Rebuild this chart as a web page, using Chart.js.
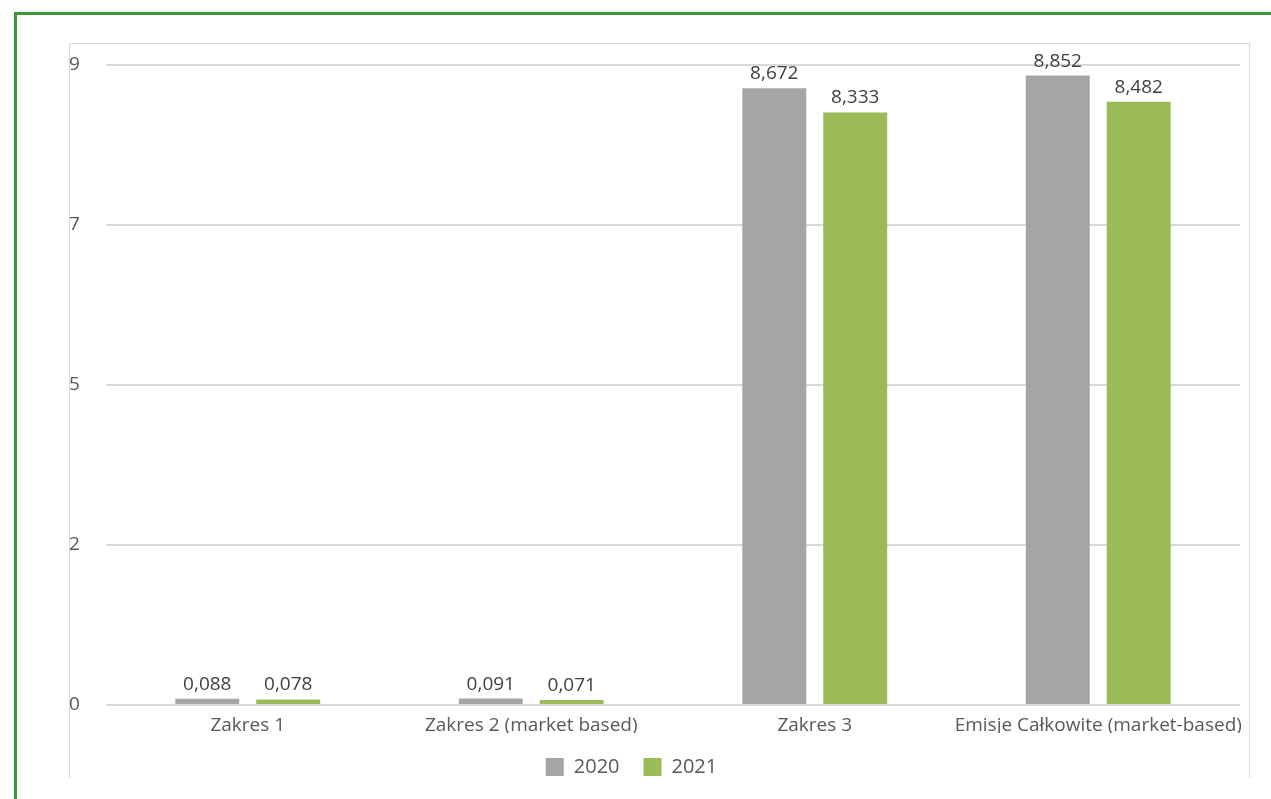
<!DOCTYPE html>
<html>
<head>
<meta charset="utf-8">
<script src="https://cdn.jsdelivr.net/npm/chart.js@4.4.0/dist/chart.umd.min.js"></script>
<style>
  body { margin: 0; background: #fff; }
  #frame { position: absolute; left: 14px; top: 12px; width: 1300px; height: 900px;
           border-left: 3px solid #3a9a3a; border-top: 3px solid #3a9a3a; }
  #box { position: absolute; left: 69px; top: 43px; width: 1179px; height: 734px;
         border: 1px solid #d9d9d9; border-bottom: none; }
  #wrap { position: absolute; left: 0; top: 0; width: 1271px; height: 799px; }
</style>
</head>
<body>
<div id="frame"></div>
<div id="box"></div>
<div id="wrap"><canvas id="emissionsChart"></canvas></div>
<script>
// Emisje (Zakres 1-3) //
const categories = ['Zakres 1', 'Zakres 2 (market based)', 'Zakres 3', 'Emisje Całkowite (market-based)'];
const values2020 = [0.088, 0.091, 8.672, 8.852];
const values2021 = [0.078, 0.071, 8.333, 8.482];
const yearLabels = ['2020', '2021'];

// labels above bars, with decimal comma
const barValueLabels = {
    id: 'barValueLabels',
    afterLayout(chart) {
        // legend sits a bit left of centre in the original
        chart.legend.left -= 23;
        chart.legend.right -= 23;
    },
    afterDatasetsDraw(chart) {
        const ctx = chart.ctx;
        ctx.save();
        ctx.font = '19px "Open Sans"';
        ctx.fillStyle = '#404040';
        ctx.textAlign = 'center';
        ctx.textBaseline = 'alphabetic';
        chart.data.datasets.forEach((ds, i) => {
            chart.getDatasetMeta(i).data.forEach((bar, j) => {
                const txt = ds.data[j].toFixed(3).replace('.', ',');
                ctx.fillText(txt, bar.x, bar.y - 9);
            });
        });
        ctx.restore();
    }
};

function renderChart() {
    const ctx = document.getElementById('emissionsChart').getContext('2d');
    new Chart(ctx, {
        type: 'bar',
        data: {
            labels: categories,
            datasets: [{
                label: yearLabels[0],
                data: values2020,
                backgroundColor: '#a5a5a5',
                categoryPercentage: 0.571,
                barPercentage: 0.79
            }, {
                label: yearLabels[1],
                data: values2021,
                backgroundColor: '#9bbb59',
                categoryPercentage: 0.571,
                barPercentage: 0.79
            }]
        },
        options: {
            responsive: true,
            maintainAspectRatio: false,
            animation: false,
            layout: { padding: { left: 69, top: 65, right: 31, bottom: 12 } },
            plugins: {
                tooltip: { enabled: false },
                legend: {
                    position: 'bottom',
                    labels: {
                        boxWidth: 18,
                        boxHeight: 18,
                        padding: 24,
                        color: '#595959',
                        font: { family: 'Open Sans', size: 20 }
                    }
                }
            },
            scales: {
                x: {
                    grid: { display: false, drawTicks: false },
                    border: { display: false },
                    ticks: {
                        color: '#595959', padding: 9, maxRotation: 0, autoSkip: false,
                        font: { family: 'Open Sans', size: 19 }
                    },
                    afterFit(scale) { scale.height = 28; }
                },
                y: {
                    min: 0,
                    max: 9,
                    grid: { color: '#d9d9d9', lineWidth: 2, drawTicks: false },
                    border: { display: false },
                    ticks: {
                        stepSize: 2.25,
                        crossAlign: 'far',
                        color: '#595959',
                        font: { family: 'Open Sans', size: 19 },
                        callback: v => Math.round(v)
                    },
                    afterFit(scale) { scale.width = 37; }
                }
            }
        },
        plugins: [barValueLabels]
    });
}

document.addEventListener('DOMContentLoaded', renderChart);
</script>
</body>
</html>
